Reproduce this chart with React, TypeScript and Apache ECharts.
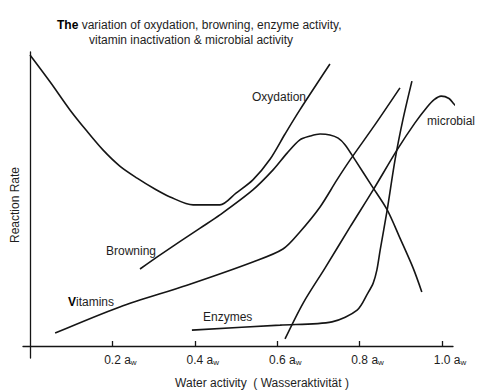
import React, { useEffect, useRef } from "react";
import * as echarts from "echarts";

// ---- data (x: water activity, y: relative reaction rate 0..100) ----
const tickValues = [0.2, 0.4, 0.6, 0.8, 1.0];

const oxyX = [0, 0.049, 0.097, 0.138, 0.177, 0.218, 0.26, 0.303, 0.34, 0.396, 0.461, 0.5, 0.541, 0.583, 0.619, 0.655, 0.728];
const oxyY = [99.0, 89.8, 80.3, 73.1, 66.7, 61.2, 57.1, 53.4, 50.7, 48.0, 48.0, 52.0, 56.5, 63.6, 72.1, 80.3, 95.9];

const brownX = [0.267, 0.316, 0.413, 0.461, 0.541, 0.59, 0.624, 0.655, 0.68, 0.704, 0.728, 0.748, 0.765, 0.789, 0.83, 0.867, 0.898, 0.93, 0.951];
const brownY = [26.2, 31.0, 40.1, 44.6, 53.1, 59.9, 65.6, 70.1, 71.4, 72.1, 71.8, 70.7, 68.4, 63.3, 54.4, 46.3, 36.7, 26.5, 18.4];

const vitX = [0.061, 0.218, 0.381, 0.541, 0.614, 0.655, 0.704, 0.745, 0.777, 0.837, 0.898];
const vitY = [4.4, 13.3, 20.7, 28.6, 33.0, 38.8, 47.3, 56.5, 63.3, 75.2, 87.8];

const enzX = [0.393, 0.607, 0.733, 0.794, 0.82, 0.833, 0.842, 0.85, 0.867, 0.886, 0.905, 0.927];
const enzY = [5.4, 7.1, 8.2, 12.2, 18.0, 21.4, 25.9, 32.7, 46.3, 63.3, 76.9, 90.1];

const micX = [0.619, 0.663, 0.716, 0.777, 0.833, 0.891, 0.934, 0.964, 0.981, 0.998, 1.017, 1.029, 1.041];
const micY = [2.4, 14.6, 26.5, 40.5, 53.1, 66.7, 75.8, 81.3, 83.8, 85.0, 84.2, 82.3, 80.6];

const seriesNames = ["Oxydation", "Browning", "Vitamins", "Enzymes", "microbial"];

const titleLine1Bold = "The";
const titleLine1Rest = " variation of oxydation, browning, enzyme activity,";
const titleLine2 = "vitamin inactivation & microbial activity";
const xName = "Water activity  ( Wasseraktivität )";
const yName = "Reaction Rate";

const FONT = "'Liberation Sans', Arial, Helvetica, sans-serif";
const INK = "#151515";
const TXT = "#1e1e1e";

const zip = (xs: number[], ys: number[]) => xs.map((x, i) => [x, ys[i]]);

export default function App() {
  const ref = useRef<HTMLDivElement>(null);

  useEffect(() => {
    if (!ref.current) return;
    const chart = echarts.init(ref.current, undefined, { renderer: "svg" });

    const sets = [
      zip(oxyX, oxyY),
      zip(brownX, brownY),
      zip(vitX, vitY),
      zip(enzX, enzY),
      zip(micX, micY),
    ];

    const label = (text: string, x: number, y: number) => ({
      type: "text",
      x,
      y,
      style: {
        text,
        fill: TXT,
        font: `12px ${FONT}`,
        verticalAlign: "middle",
        align: "left",
      },
    });

    chart.setOption({
      animation: false,
      backgroundColor: "#ffffff",
      textStyle: { fontFamily: FONT },
      grid: {
        left: 23,
        right: 30,
        top: 52,
        bottom: 33,
        containLabel: false,
        outerBoundsMode: "none",
      },
      xAxis: {
        type: "value",
        min: -0.017,
        max: 1.0267,
        splitLine: { show: false },
        axisLine: { show: true, onZero: true, lineStyle: { color: INK, width: 1.3 } },
        axisTick: {
          show: true,
          inside: true,
          length: 5,
          customValues: tickValues,
          lineStyle: { color: INK, width: 1.3 },
        },
        axisLabel: {
          show: true,
          customValues: tickValues,
          margin: -4,
          lineHeight: 12,
          formatter: (v: number) => `{s| }{n|${v.toFixed(1)} a}{w|w}`,
          rich: {
            s: { width: 16, fontSize: 12, lineHeight: 12 },
            n: { fontSize: 12, color: TXT, fontFamily: FONT, lineHeight: 12 },
            w: { fontSize: 8, color: TXT, fontFamily: FONT, lineHeight: 8, verticalAlign: "bottom" },
          },
        },
        name: xName,
        nameLocation: "middle",
        nameGap: 19,
        nameMoveOverlap: false,
        nameTextStyle: { fontSize: 12, color: TXT, fontFamily: FONT, padding: [0, 0, 0, 48] },
      },
      yAxis: {
        type: "value",
        min: -4.08,
        max: 100,
        splitLine: { show: false },
        axisLine: { show: true, onZero: true, lineStyle: { color: INK, width: 1.3 } },
        axisTick: { show: false },
        axisLabel: { show: false },
        name: yName,
        nameLocation: "middle",
        nameGap: 2,
        nameMoveOverlap: false,
        nameTextStyle: { fontSize: 12, color: TXT, fontFamily: FONT },
      },
      series: sets.map((d, i) => ({
        name: seriesNames[i],
        type: "line",
        data: d,
        smooth: 0.3,
        showSymbol: false,
        symbol: "none",
        clip: false,
        lineStyle: { color: INK, width: 1.6 },
        silent: true,
      })),
      graphic: [
        {
          type: "text",
          x: 57,
          y: 25,
          style: {
            text: `{b|${titleLine1Bold}}{r|${titleLine1Rest}}`,
            verticalAlign: "middle",
            align: "left",
            rich: {
              b: { fontSize: 12, fontWeight: "bold", fill: "#000", fontFamily: FONT },
              r: { fontSize: 12, fill: TXT, fontFamily: FONT },
            },
          },
        },
        label(titleLine2, 89, 40),
        label("Oxydation", 252, 97),
        label("microbial", 427, 121),
        label("Browning", 106, 251),
        {
          type: "text",
          x: 68,
          y: 302,
          style: {
            text: "{b|V}{r|itamins}",
            verticalAlign: "middle",
            align: "left",
            rich: {
              b: { fontSize: 12, fontWeight: "bold", fill: "#000", fontFamily: FONT },
              r: { fontSize: 12, fill: TXT, fontFamily: FONT },
            },
          },
        },
        label("Enzymes", 203, 317),
      ],
    });

    return () => chart.dispose();
  }, []);

  return (
    <div
      ref={ref}
      style={{ position: "fixed", left: 0, top: 0, width: 483, height: 391, background: "#fff" }}
    />
  );
}
